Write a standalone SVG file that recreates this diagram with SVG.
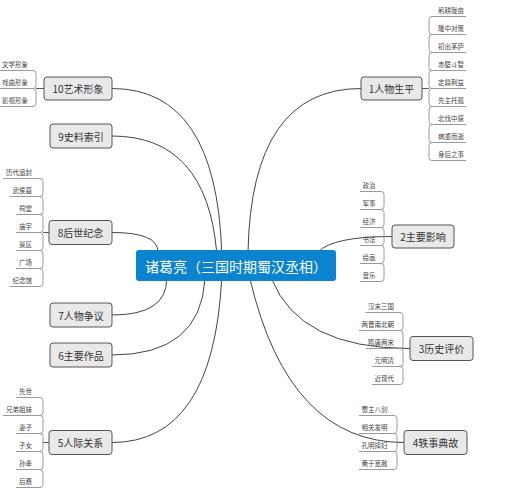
<svg xmlns="http://www.w3.org/2000/svg" width="526" height="500" viewBox="0 0 526 500">
<style>
.bg{fill:#ffffff}
.curve{fill:none;stroke:#444;stroke-width:1}
.brk{fill:none;stroke:#9a9a9a;stroke-width:1}
.stub{fill:none;stroke:#555;stroke-width:1}
.main rect{fill:#e9e9e9;stroke:#555;stroke-width:1}
.main text{font-family:"Noto Sans CJK SC","Noto Sans",sans-serif;font-size:10px;fill:#333;text-anchor:middle;dominant-baseline:central}
.leaf text{font-family:"Noto Sans CJK SC","Noto Sans",sans-serif;font-size:6.5px;fill:#444;dominant-baseline:central}
.L text{text-anchor:end}
.R text{text-anchor:start}
#root rect{fill:#0b84cf}
#root text{font-family:"Noto Sans CJK SC","Noto Sans",sans-serif;font-size:14px;fill:#fff;text-anchor:middle;dominant-baseline:central}
</style>
<rect class="bg" x="0" y="0" width="526" height="500"/>
<g id="connectors">
<path class="curve" d="M221.7,252 Q216.2,88.5 112,88.5"/>
<path class="curve" d="M216.7,252 Q206.2,136 112,136"/>
<path class="curve" d="M158,252 Q158,232.5 112,232.5"/>
<path class="curve" d="M166.7,279 Q166.7,315 112,315"/>
<path class="curve" d="M205,279 Q200.4,355 112,355"/>
<path class="curve" d="M221.7,279 Q212.9,442.5 112,442.5"/>
<path class="curve" d="M248,252 Q251.4,88.5 361,88.5"/>
<path class="curve" d="M318,252 Q332.8,236.5 392,236.5"/>
<path class="curve" d="M271.7,279 Q299.4,348.5 410,348.5"/>
<path class="curve" d="M250,279 Q288.5,442.5 404,442.5"/>
<path class="stub" d="M422,88.5H429 M384,236.5H392 M403,348.5H410 M397,442.5H404 M36,88.5H44 M43,232.5H49 M43,442.5H49"/>
<path class="brk" d="M466,16.5H432Q429,16.5 429,19.5V31.5Q429,34.5 432,34.5H466 M432,34.5Q429,34.5 429,37.5V49.5Q429,52.5 432,52.5H466 M432,52.5Q429,52.5 429,55.5V67.5Q429,70.5 432,70.5H466 M432,70.5Q429,70.5 429,73.5V85.5Q429,88.5 432,88.5H466 M432,88.5Q429,88.5 429,91.5V103.5Q429,106.5 432,106.5H466 M432,106.5Q429,106.5 429,109.5V121.5Q429,124.5 432,124.5H466 M432,124.5Q429,124.5 429,127.5V139.5Q429,142.5 432,142.5H466 M432,142.5Q429,142.5 429,145.5V157.5Q429,160.5 432,160.5H466"/>
<path class="brk" d="M360,191.5H381Q384,191.5 384,194.5V206.5Q384,209.5 381,209.5H360 M381,209.5Q384,209.5 384,212.5V224.5Q384,227.5 381,227.5H360 M381,227.5Q384,227.5 384,230.5V242.5Q384,245.5 381,245.5H360 M381,245.5Q384,245.5 384,248.5V260.5Q384,263.5 381,263.5H360 M381,263.5Q384,263.5 384,266.5V278.5Q384,281.5 381,281.5H360"/>
<path class="brk" d="M365.5,312.5H400Q403,312.5 403,315.5V327.5Q403,330.5 400,330.5H359 M400,330.5Q403,330.5 403,333.5V345.5Q403,348.5 400,348.5H365.5 M400,348.5Q403,348.5 403,351.5V363.5Q403,366.5 400,366.5H372 M400,366.5Q403,366.5 403,369.5V381.5Q403,384.5 400,384.5H372"/>
<path class="brk" d="M359,415.5H394Q397,415.5 397,418.5V430.5Q397,433.5 394,433.5H359 M394,433.5Q397,433.5 397,436.5V448.5Q397,451.5 394,451.5H359 M394,451.5Q397,451.5 397,454.5V466.5Q397,469.5 394,469.5H359"/>
<path class="brk" d="M0,70.5H33Q36,70.5 36,73.5V85.5Q36,88.5 33,88.5H0 M33,88.5Q36,88.5 36,91.5V103.5Q36,106.5 33,106.5H0"/>
<path class="brk" d="M3,178.5H40Q43,178.5 43,181.5V193.5Q43,196.5 40,196.5H9.5 M40,196.5Q43,196.5 43,199.5V211.5Q43,214.5 40,214.5H16 M40,214.5Q43,214.5 43,217.5V229.5Q43,232.5 40,232.5H16 M40,232.5Q43,232.5 43,235.5V247.5Q43,250.5 40,250.5H16 M40,250.5Q43,250.5 43,253.5V265.5Q43,268.5 40,268.5H16 M40,268.5Q43,268.5 43,271.5V283.5Q43,286.5 40,286.5H9.5"/>
<path class="brk" d="M16,397.5H40Q43,397.5 43,400.5V412.5Q43,415.5 40,415.5H3 M40,415.5Q43,415.5 43,418.5V430.5Q43,433.5 40,433.5H16 M40,433.5Q43,433.5 43,436.5V448.5Q43,451.5 40,451.5H16 M40,451.5Q43,451.5 43,454.5V466.5Q43,469.5 40,469.5H16 M40,469.5Q43,469.5 43,472.5V484.5Q43,487.5 40,487.5H16"/>
</g>
<g id="root"><rect x="136" y="250" width="200" height="31" rx="3"/><text x="236" y="265.5">诸葛亮（三国时期蜀汉丞相）</text></g>
<g id="n1" class="main"><rect x="361" y="77" width="61" height="23" rx="3"/><text x="391.5" y="88.5">1人物生平</text></g>
<g id="n2" class="main"><rect x="392" y="225" width="62" height="23" rx="3"/><text x="423" y="236.5">2主要影响</text></g>
<g id="n3" class="main"><rect x="410" y="336.5" width="63" height="24" rx="3"/><text x="441.5" y="348.5">3历史评价</text></g>
<g id="n4" class="main"><rect x="404" y="430.5" width="63" height="24" rx="3"/><text x="435.5" y="442.5">4轶事典故</text></g>
<g id="n5" class="main"><rect x="49" y="430.5" width="63" height="24" rx="3"/><text x="80.5" y="442.5">5人际关系</text></g>
<g id="n6" class="main"><rect x="50" y="343" width="62" height="24" rx="3"/><text x="81" y="355">6主要作品</text></g>
<g id="n7" class="main"><rect x="50" y="303" width="62" height="24" rx="3"/><text x="81" y="315">7人物争议</text></g>
<g id="n8" class="main"><rect x="49" y="220.5" width="63" height="24" rx="3"/><text x="80.5" y="232.5">8后世纪念</text></g>
<g id="n9" class="main"><rect x="50" y="124" width="62" height="24" rx="3"/><text x="81" y="136">9史料索引</text></g>
<g id="n10" class="main"><rect x="44" y="77" width="68" height="23" rx="3"/><text x="78" y="88.5">10艺术形象</text></g>
<g id="leaves1" class="leaf R">
<g id="l1a"><text x="438" y="10">躬耕陇亩</text></g>
<g id="l1b"><text x="438" y="28">隆中对策</text></g>
<g id="l1c"><text x="438" y="46">初出茅庐</text></g>
<g id="l1d"><text x="438" y="64">赤壁斗智</text></g>
<g id="l1e"><text x="438" y="82">定鼎荆益</text></g>
<g id="l1f"><text x="438" y="100">先主托孤</text></g>
<g id="l1g"><text x="438" y="118">北伐中原</text></g>
<g id="l1h"><text x="438" y="136">病重而逝</text></g>
<g id="l1i"><text x="438" y="154">身后之事</text></g>
</g>
<g id="leaves2" class="leaf L">
<g id="l2a"><text x="375.5" y="185">政治</text></g>
<g id="l2b"><text x="375.5" y="203">军事</text></g>
<g id="l2c"><text x="375.5" y="221">经济</text></g>
<g id="l2d"><text x="375.5" y="239">书法</text></g>
<g id="l2e"><text x="375.5" y="257">绘画</text></g>
<g id="l2f"><text x="375.5" y="275">音乐</text></g>
</g>
<g id="leaves3" class="leaf L">
<g id="l3a"><text x="394" y="306">汉末三国</text></g>
<g id="l3b"><text x="394" y="324">两晋南北朝</text></g>
<g id="l3c"><text x="394" y="342">隋唐两宋</text></g>
<g id="l3d"><text x="394" y="360">元明清</text></g>
<g id="l3e"><text x="394" y="378">近现代</text></g>
</g>
<g id="leaves4" class="leaf L">
<g id="l4a"><text x="387.5" y="409">蜀主八剑</text></g>
<g id="l4b"><text x="387.5" y="427">相关发明</text></g>
<g id="l4c"><text x="387.5" y="445">孔明择妇</text></g>
<g id="l4d"><text x="387.5" y="463">斋于宽赦</text></g>
</g>
<g id="leaves10" class="leaf L">
<g id="l10a"><text x="28" y="64">文学形象</text></g>
<g id="l10b"><text x="28" y="82">戏曲形象</text></g>
<g id="l10c"><text x="28" y="100">影视形象</text></g>
</g>
<g id="leaves8" class="leaf L">
<g id="l8a"><text x="32" y="172">历代追封</text></g>
<g id="l8b"><text x="32" y="190">武侯墓</text></g>
<g id="l8c"><text x="32" y="208">祠堂</text></g>
<g id="l8d"><text x="32" y="226">庙宇</text></g>
<g id="l8e"><text x="32" y="244">景区</text></g>
<g id="l8f"><text x="32" y="262">广场</text></g>
<g id="l8g"><text x="32" y="280">纪念馆</text></g>
</g>
<g id="leaves5" class="leaf L">
<g id="l5a"><text x="32" y="391">先世</text></g>
<g id="l5b"><text x="32" y="409">兄弟姐妹</text></g>
<g id="l5c"><text x="32" y="427">妻子</text></g>
<g id="l5d"><text x="32" y="445">子女</text></g>
<g id="l5e"><text x="32" y="463">孙辈</text></g>
<g id="l5f"><text x="32" y="481">后裔</text></g>
</g>
</svg>
